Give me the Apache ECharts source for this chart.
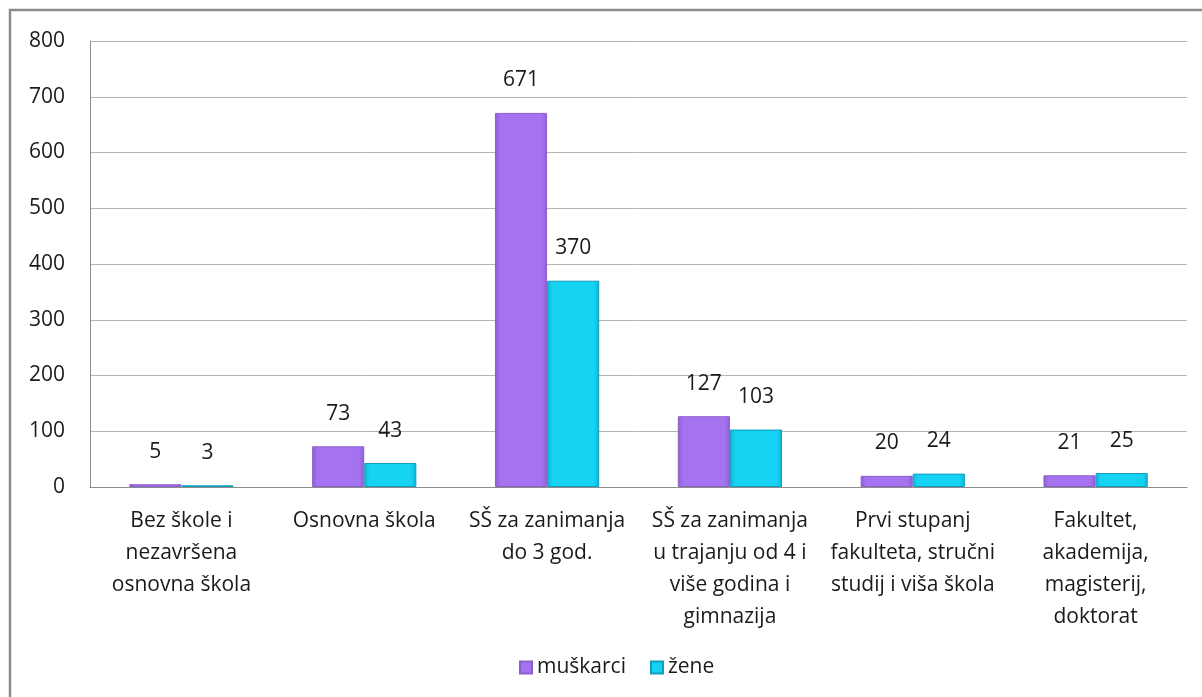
<!DOCTYPE html>
<html>
<head>
<meta charset="utf-8">
<script src="https://cdn.jsdelivr.net/npm/echarts@6/dist/echarts.min.js"></script>
<style>
  html, body { margin: 0; padding: 0; background: #fff; }
  #chart { width: 1202px; height: 697px; }
</style>
</head>
<body>
<div id="chart"></div>
<script>
const categories = [
  "Bez škole i\nnezavršena\nosnovna škola",
  "Osnovna škola",
  "SŠ za zanimanja\ndo 3 god.",
  "SŠ za zanimanja\nu trajanju od 4 i\nviše godina i\ngimnazija",
  "Prvi stupanj\nfakulteta, stručni\nstudij i viša škola",
  "Fakultet,\nakademija,\nmagisterij,\ndoktorat",
];
const muskarci = [5, 73, 671, 127, 20, 21];
const zene = [3, 43, 370, 103, 24, 25];
const seriesNames = ["muškarci", "žene"];

const FONT = "'Open Sans', 'Liberation Sans', sans-serif";
const FS = 21;

function bevel(base, dark) {
  return new echarts.graphic.LinearGradient(0, 0, 1, 0, [
    { offset: 0, color: dark },
    { offset: 0.1, color: base },
    { offset: 0.9, color: base },
    { offset: 1, color: dark },
  ]);
}

const chart = echarts.init(document.getElementById("chart"));

const labelStyle = {
  show: true,
  position: "top",
  distance: 22,
  color: "#1a1a1a",
  fontSize: FS,
  fontFamily: FONT,
};

chart.setOption({
  animation: false,
  backgroundColor: "#fff",
  textStyle: { fontFamily: FONT },
  graphic: [
    {
      type: "rect",
      shape: { x: 10, y: 10, width: 1200, height: 700 },
      style: { fill: "none", stroke: "#8c8c8c", lineWidth: 2.5 },
      silent: true,
    },
  ],
  grid: { left: 90, right: 15, top: 41, bottom: 210 },
  legend: {
    data: seriesNames,
    left: 514,
    top: 652,
    itemWidth: 12,
    itemHeight: 12,
    itemGap: 24,
    icon: "rect",
    textStyle: { color: "#1a1a1a", fontSize: FS, fontFamily: FONT },
  },
  xAxis: {
    type: "category",
    data: categories,
    axisLine: { lineStyle: { color: "#8c8c8c", width: 1 } },
    axisTick: { show: false },
    axisLabel: {
      interval: 0,
      color: "#1a1a1a",
      fontSize: FS,
      lineHeight: 32,
      margin: 18,
      fontFamily: FONT,
    },
  },
  yAxis: {
    type: "value",
    min: 0,
    max: 800,
    interval: 100,
    axisLine: { show: true, lineStyle: { color: "#8c8c8c", width: 1 } },
    axisTick: { show: false },
    axisLabel: { color: "#1a1a1a", fontSize: FS, margin: 25, fontFamily: FONT },
    splitLine: { lineStyle: { color: "#b4b4b4", width: 1 } },
  },
  series: [
    {
      name: seriesNames[0],
      type: "bar",
      data: muskarci,
      barGap: "0%",
      barCategoryGap: "43%",
      itemStyle: {
        color: bevel("#a673f0", "#8e5cd6"),
        borderColor: "#8a60c8",
        borderWidth: 1,
      },
      label: labelStyle,
    },
    {
      name: seriesNames[1],
      type: "bar",
      data: zene,
      itemStyle: {
        color: bevel("#16d2f3", "#0fb4d4"),
        borderColor: "#119cbc",
        borderWidth: 1,
      },
      label: labelStyle,
    },
  ],
});
</script>
</body>
</html>
